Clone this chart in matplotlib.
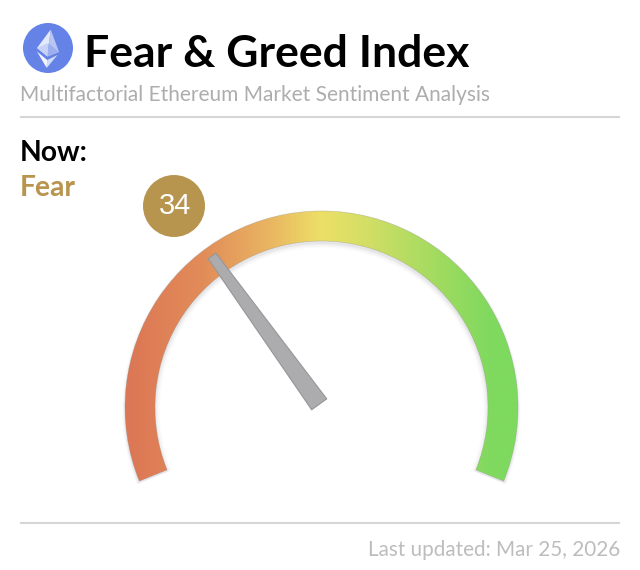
import numpy as np
import matplotlib.pyplot as plt
from matplotlib.colors import LinearSegmentedColormap
from matplotlib.patches import Circle, Polygon, Wedge

plt.rcParams["font.family"] = ["Lato", "DejaVu Sans"]

index_value = 34
index_min = 0
index_max = 100
sentiment = "Fear"
title = "Fear & Greed Index"
subtitle = "Multifactorial Ethereum Market Sentiment Analysis"
updated = "Last updated: Mar 25, 2026"
gauge_colors = ["#DC7655", "#E28D59", "#E9B662", "#EDE067", "#CFDE65", "#A0DB60", "#80D95F", "#7DD95F"]
gauge_stops = [0.0, 0.2, 0.37, 0.5, 0.63, 0.8, 0.93, 1.0]

ACCENT = "#B8954F"
CX, CY = 321.5, 407.5
R_OUT, R_IN = 196.5, 166.5
START, END = 202.0, -22.0

# axes in pixels, y down, same as the picture
fig = plt.figure(figsize=(6.4, 5.7), dpi=100)
ax = fig.add_axes([0, 0, 1, 1])
ax.set_xlim(0, 640)
ax.set_ylim(570, 0)
ax.axis("off")


def ring(r_out, r_in, dy=0, **kwargs):
    # y axis is flipped, so the angles get mirrored for Wedge
    return Wedge((CX, CY + dy), r_out, -START, -END, width=r_out - r_in, **kwargs)


# soft shadow under the gauge, pushed down a little
for grow, alpha in [(5, 0.012), (4, 0.016), (3, 0.025), (2, 0.035), (1, 0.05)]:
    ax.add_patch(ring(R_OUT + grow * 0.6, R_IN - grow, dy=2, fc="#505060", ec="none", alpha=alpha))

cmap = LinearSegmentedColormap.from_list("gauge", list(zip(gauge_stops, gauge_colors)))
grad = np.linspace(0, 1, 400).reshape(1, -1)
img = ax.imshow(
    grad,
    cmap=cmap,
    extent=(CX - R_OUT, CX + R_OUT, CY + 80, CY - R_OUT),
    aspect="auto",
    zorder=2,
)
clip = ring(R_OUT, R_IN, fc="none", ec="none")
ax.add_patch(clip)
img.set_clip_path(clip)
ax.set_xlim(0, 640)
ax.set_ylim(570, 0)
ax.add_patch(ring(R_OUT, R_IN, fc="none", ec="#8F8A7C", lw=0.4, alpha=0.45, zorder=3))

# needle, angle comes from the value
frac = (index_value - index_min) / (index_max - index_min)
angle = START + (END - START) * frac
hub = np.array([319.2, 404.3])
a = np.deg2rad(angle)
along = np.array([np.cos(a), -np.sin(a)])
side = np.array([along[1], -along[0]])
tip = hub + along * 183
needle = [hub + side * 9.3, hub - side * 9.3, tip - side * 4.8, tip + side * 4.8]
ax.add_patch(Polygon(needle, closed=True, fc="#ACACAF", ec="#969698", lw=0.8, zorder=4, joinstyle="round"))

# value badge
ax.add_patch(Circle((174, 206), 31, fc=ACCENT, ec="none", zorder=5))
ax.text(175, 206.5, str(index_value), color="white", fontsize=21, family="Liberation Sans",
        ha="center", va="center", zorder=6)

# ethereum logo, sits tilted a few degrees
ax.add_patch(Circle((48, 48), 25, fc="#6583E6", ec="none"))
ax.add_patch(Polygon([(50.7, 29.5), (37, 48), (47.5, 56.5)], fc="#E4E9FB", ec="none"))
ax.add_patch(Polygon([(50.7, 29.5), (59, 52), (47.5, 56.5)], fc="#B9C6F3", ec="none"))
ax.add_patch(Polygon([(37, 48), (48.5, 43), (47.5, 56.5)], fc="#C7D2F6", ec="none"))
ax.add_patch(Polygon([(59, 52), (48.5, 43), (47.5, 56.5)], fc="#9DAFEE", ec="none"))
ax.add_patch(Polygon([(37, 51.5), (47.2, 60), (46.7, 68)], fc="#F3F5FD", ec="none"))
ax.add_patch(Polygon([(57.5, 55), (47.2, 60), (46.7, 68)], fc="#CFD9F8", ec="none"))

# text
ax.text(84, 54, title, fontsize=32, fontweight="bold", color="black", va="center", ha="left")
ax.text(20, 95, subtitle, fontsize=15.05, color="#ADADAD", va="center", ha="left")
ax.text(20, 153, "Now:", fontsize=20.3, fontweight="bold", color="black", va="center", ha="left")
ax.text(20, 188, sentiment, fontsize=20.3, fontweight="bold", color=ACCENT, va="center", ha="left")
ax.text(620, 550, updated, fontsize=14.85, color="#BDBDBD", va="center", ha="right")

# divider lines
ax.plot([20, 620], [117, 117], color="#D6D6D6", lw=1.5, solid_capstyle="butt")
ax.plot([20, 620], [522.5, 522.5], color="#D6D6D6", lw=1.5, solid_capstyle="butt")

fig.savefig("out.png", dpi=100)
